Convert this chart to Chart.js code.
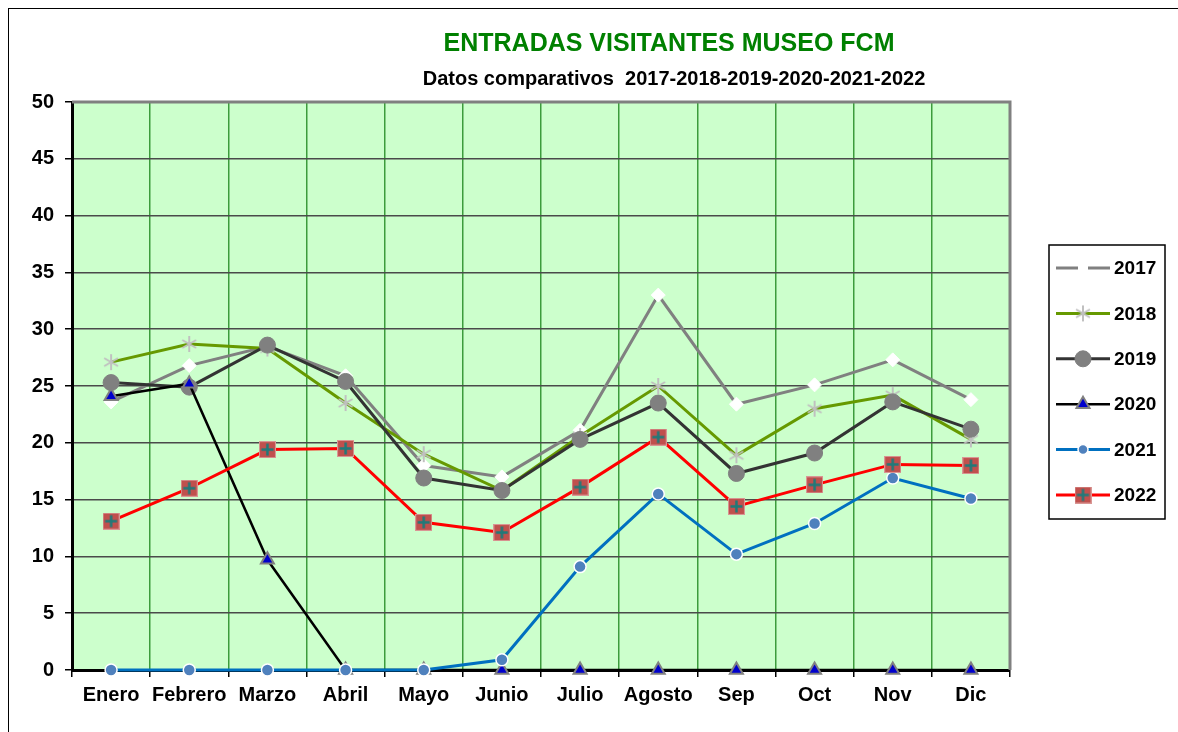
<!DOCTYPE html>
<html>
<head>
<meta charset="utf-8">
<script src="https://cdn.jsdelivr.net/npm/chart.js@4.4.0/dist/chart.umd.min.js"></script>
<style>
  html, body { margin: 0; padding: 0; background: #fff; }
  #wrap { position: relative; width: 1178px; height: 732px; }
  #frame { position: absolute; left: 8px; top: 8px; right: -2px; bottom: -2px; border: 1px solid #000; pointer-events: none; }
  canvas { position: absolute; left: 0; top: 0; }
</style>
</head>
<body>
<div id="wrap">
  <canvas id="visitas" width="1178" height="732"></canvas>
  <div id="frame"></div>
</div>
<script>
const meses = ["Enero", "Febrero", "Marzo", "Abril", "Mayo", "Junio", "Julio", "Agosto", "Sep", "Oct", "Nov", "Dic"];
const years = ["2017", "2018", "2019", "2020", "2021", "2022"];

const v2017 = [23.6, 26.8, 28.5, 25.9, 18.0, 17.0, 21.1, 33.0, 23.4, 25.1, 27.3, 23.8];
const v2018 = [27.1, 28.7, 28.3, 23.5, 19.0, 15.8, 20.6, 25.0, 18.9, 23.0, 24.2, 20.3];
const v2019 = [25.3, 24.9, 28.6, 25.4, 16.9, 15.8, 20.3, 23.5, 17.3, 19.1, 23.6, 21.2];
const v2020 = [24.1, 25.2, 9.7, 0, 0, 0, 0, 0, 0, 0, 0, 0];
const v2021 = [0, 0, 0, 0, 0, 0.9, 9.1, 15.5, 10.2, 12.9, 16.9, 15.1];
const v2022 = [13.1, 16.0, 19.4, 19.5, 13.0, 12.1, 16.1, 20.5, 14.4, 16.3, 18.1, 18.0];

const yTicks = [0, 5, 10, 15, 20, 25, 30, 35, 40, 45, 50];

// marcadores dibujados a mano (asterisco de 2018 y cuadrado con cruz de 2022)
function makeAsterisk() {
    const c = document.createElement("canvas");
    c.width = 18; c.height = 18;
    const g = c.getContext("2d");
    g.strokeStyle = "#c0c0c0";
    g.lineWidth = 2;
    g.beginPath();
    for (let a = 0; a < 3; a++) {
        const ang = Math.PI / 2 + a * Math.PI / 3;
        g.moveTo(9 + Math.cos(ang) * 8, 9 + Math.sin(ang) * 8);
        g.lineTo(9 - Math.cos(ang) * 8, 9 - Math.sin(ang) * 8);
    }
    g.stroke();
    return c;
}

function makeSquare() {
    const c = document.createElement("canvas");
    c.width = 17; c.height = 17;
    const g = c.getContext("2d");
    g.fillStyle = "#d99694";
    g.fillRect(0, 0, 17, 17);
    g.fillStyle = "#c0504d";
    g.fillRect(1, 1, 15, 15);
    g.strokeStyle = "#1f7a7a";
    g.lineWidth = 2.5;
    g.beginPath();
    g.moveTo(8.5, 2.5); g.lineTo(8.5, 14.5);
    g.moveTo(2.5, 8.5); g.lineTo(14.5, 8.5);
    g.stroke();
    return c;
}

const asterisk = makeAsterisk();
const squareCross = makeSquare();

const series = [
    { label: "2017", data: v2017, borderColor: "#808080", borderWidth: 3, pointStyle: "rectRot", pointRadius: 7,
      pointBackgroundColor: "#ffffff", pointBorderColor: "#ffffff", pointBorderWidth: 1, order: 6, legendDash: [22, 10] },
    { label: "2018", data: v2018, borderColor: "#669900", borderWidth: 3, pointStyle: asterisk, pointRadius: 8,
      pointBackgroundColor: "#c0c0c0", pointBorderColor: "#c0c0c0", pointBorderWidth: 1, order: 5 },
    { label: "2019", data: v2019, borderColor: "#333333", borderWidth: 3, pointStyle: "circle", pointRadius: 8,
      pointBackgroundColor: "#808080", pointBorderColor: "#808080", pointBorderWidth: 1, order: 4 },
    { label: "2020", data: v2020, borderColor: "#000000", borderWidth: 2.5, pointStyle: "triangle", pointRadius: 7.5,
      pointBackgroundColor: "#0000cc", pointBorderColor: "#808080", pointBorderWidth: 2, order: 3 },
    { label: "2021", data: v2021, borderColor: "#0070c0", borderWidth: 3, pointStyle: "circle", pointRadius: 6,
      pointBackgroundColor: "#4f81bd", pointBorderColor: "#ffffff", pointBorderWidth: 1.5, order: 2 },
    { label: "2022", data: v2022, borderColor: "#ff0000", borderWidth: 3, pointStyle: squareCross, pointRadius: 8,
      pointBackgroundColor: "#c0504d", pointBorderColor: "#d99694", pointBorderWidth: 1, order: 1 },
];

const chartBg = {
    id: "chartBg",
    beforeDraw(chart) {
        const { ctx, chartArea: a } = chart;
        ctx.save();
        ctx.fillStyle = "#ccffcc";
        ctx.fillRect(a.left, a.top, a.right - a.left, a.bottom - a.top);
        ctx.restore();
    },
    afterDatasetsDraw(chart) {
        const { ctx, chartArea: a } = chart;
        ctx.save();
        ctx.strokeStyle = "#808080";
        ctx.lineWidth = 3;
        ctx.beginPath();
        ctx.moveTo(a.left, a.top);
        ctx.lineTo(a.right, a.top);
        ctx.lineTo(a.right, a.bottom);
        ctx.stroke();
        ctx.restore();
    },
};

const titles = {
    id: "titles",
    afterDraw(chart) {
        const ctx = chart.ctx;
        ctx.save();
        ctx.textAlign = "center";
        ctx.textBaseline = "middle";
        ctx.fillStyle = "#008000";
        ctx.font = "bold 25px 'Liberation Sans', Arial, sans-serif";
        ctx.fillText("ENTRADAS VISITANTES MUSEO FCM", 669, 44);
        ctx.fillStyle = "#000000";
        ctx.font = "bold 20px 'Liberation Sans', Arial, sans-serif";
        ctx.fillText("Datos comparativos  2017-2018-2019-2020-2021-2022", 674, 79);
        ctx.restore();
    },
};

// leyenda con recuadro a la derecha
const legendBox = {
    id: "legendBox",
    afterDraw(chart) {
        const ctx = chart.ctx;
        const bx = 1049, by = 245, bw = 116, bh = 274;
        ctx.save();
        ctx.fillStyle = "#ffffff";
        ctx.fillRect(bx, by, bw, bh);
        ctx.strokeStyle = "#000000";
        ctx.lineWidth = 1.5;
        ctx.strokeRect(bx, by, bw, bh);
        ctx.font = "bold 19px 'Liberation Sans', Arial, sans-serif";
        ctx.textBaseline = "middle";
        series.forEach((s, i) => {
            const y = by + 23 + i * 45.4;
            ctx.strokeStyle = s.borderColor;
            ctx.lineWidth = s.borderWidth;
            ctx.setLineDash(s.legendDash || []);
            ctx.beginPath();
            ctx.moveTo(1056, y);
            ctx.lineTo(1110, y);
            ctx.stroke();
            ctx.setLineDash([]);
            if (!s.legendDash) {
                ctx.fillStyle = s.pointBackgroundColor;
                ctx.strokeStyle = s.pointBorderColor;
                ctx.lineWidth = s.pointBorderWidth;
                Chart.helpers.drawPoint(ctx, {
                    pointStyle: s.pointStyle,
                    radius: s.label === "2021" ? 5 : s.pointRadius,
                    rotation: 0,
                    borderWidth: s.pointBorderWidth,
                }, 1083, y);
            }
            ctx.fillStyle = "#000000";
            ctx.fillText(years[i], 1114, y + 1);
        });
        ctx.restore();
    },
};

const ctxVisitas = document.getElementById("visitas");

const visitasChart = new Chart(ctxVisitas, {
    type: "line",
    data: {
        labels: meses,
        datasets: series.map(s => ({
            label: s.label,
            data: s.data,
            borderColor: s.borderColor,
            borderWidth: s.borderWidth,
            backgroundColor: s.pointBackgroundColor,
            pointStyle: s.pointStyle,
            pointRadius: s.pointRadius,
            pointBackgroundColor: s.pointBackgroundColor,
            pointBorderColor: s.pointBorderColor,
            pointBorderWidth: s.pointBorderWidth,
            tension: 0,
            fill: false,
            order: s.order,
            clip: false,
        })),
    },
    options: {
        responsive: false,
        animation: false,
        layout: { padding: { left: 0, top: 102, right: 168, bottom: 0 } },
        plugins: {
            legend: { display: false },
            title: { display: false },
            tooltip: { enabled: false },
        },
        scales: {
            x: {
                offset: true,
                grid: { offset: true, color: "#3c9c3c", lineWidth: 1.5, tickLength: 7, tickColor: "#000000" },
                border: { color: "#000000", width: 3 },
                ticks: {
                    color: "#000000",
                    padding: 6,
                    maxRotation: 0,
                    autoSkip: false,
                    font: { family: "'Liberation Sans', Arial, sans-serif", size: 20, weight: "bold" },
                },
                afterFit(scale) { scale.height = 62; },
            },
            y: {
                min: 0,
                max: 50,
                afterBuildTicks(scale) { scale.ticks = yTicks.map(v => ({ value: v })); },
                grid: { color: "#4a4a4a", lineWidth: 1.5, tickLength: 7, tickColor: "#000000" },
                border: { color: "#000000", width: 3 },
                ticks: {
                    color: "#000000",
                    padding: 11,
                    font: { family: "'Liberation Sans', Arial, sans-serif", size: 20, weight: "bold" },
                },
                afterFit(scale) { scale.width = 72; },
            },
        },
    },
    plugins: [chartBg, titles, legendBox],
});
</script>
</body>
</html>
